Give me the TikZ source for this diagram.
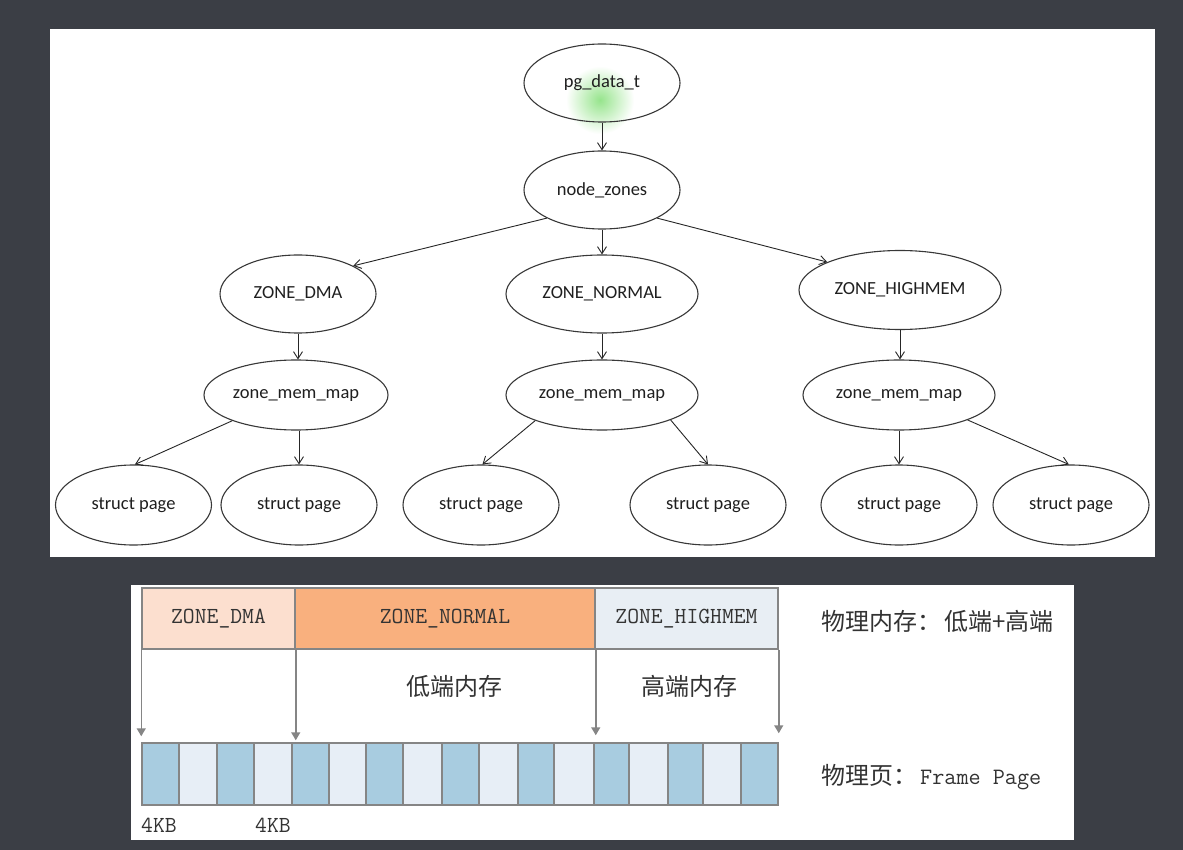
\documentclass[tikz,border=0pt]{standalone}
\usepackage{fontspec}
\usetikzlibrary{shapes.geometric,arrows.meta}
\newfontfamily\treefont{Carlito}
\newfontfamily\cjk{Noto Sans CJK SC}
\newcommand\monof{\ttfamily}
\definecolor{bgdark}{HTML}{3B3E45}
\definecolor{dmacol}{HTML}{FCDFCF}
\definecolor{norcol}{HTML}{F9B07E}
\definecolor{higcol}{HTML}{E8EEF4}
\definecolor{pd}{HTML}{A8CCE0}
\definecolor{pl}{HTML}{E7EEF6}
\definecolor{gline}{HTML}{858585}
\definecolor{txt}{HTML}{333333}
\definecolor{glow}{RGB}{150,228,140}
\begin{document}
\begin{tikzpicture}[x=1pt,y=-1pt,
  el/.style={ellipse,draw=black!78,line width=1.1pt,inner sep=0pt,
    font=\treefont\fontsize{18.5}{20}\selectfont,text=black!88},
  arr/.style={-{Straight Barb[length=7pt,width=9pt]},line width=0.9pt,draw=black!85},
  hcell/.style={rectangle,draw=gline,line width=1.5pt,inner sep=0pt,
    minimum height=61pt,font=\monof\fontsize{23}{25}\selectfont,text=txt},
  pcell/.style={rectangle,draw=gline,line width=1.5pt,inner sep=0pt,minimum height=62pt},
  garr/.style={-{Triangle[length=8pt,width=9pt]},line width=1.5pt,draw=gline},
  lbl/.style={inner sep=0pt,text=txt}]
\useasboundingbox (0,0) rectangle (1183,850);
\fill[bgdark] (0,0) rectangle (1183,850);
\fill[white] (50,29) rectangle (1155,557);
\fill[white] (131,585) rectangle (1074,840);

% cursor glow
\shade[inner color=glow,outer color=white] (600,100) circle (34);

% tree nodes
\node[el,minimum width=156pt,minimum height=78pt] (pg) at (602,83) {pg\_data\_t};
\node[el,minimum width=156pt,minimum height=78pt] (nz) at (602,190) {node\_zones};
\node[el,minimum width=156pt,minimum height=78pt] (dma) at (298,294) {ZONE\_DMA};
\node[el,minimum width=192pt,minimum height=78pt] (nor) at (602,294) {ZONE\_NORMAL};
\node[el,minimum width=202pt,minimum height=79pt] (hig) at (900,290) {ZONE\_HIGHMEM};
\node[el,minimum width=184pt,minimum height=70pt] (m1) at (296,395) {zone\_mem\_map};
\node[el,minimum width=192pt,minimum height=70pt] (m2) at (602,395) {zone\_mem\_map};
\node[el,minimum width=192pt,minimum height=70pt] (m3) at (899,395) {zone\_mem\_map};
\node[el,minimum width=156pt,minimum height=80pt] (s1) at (133.5,505) {struct page};
\node[el,minimum width=156pt,minimum height=80pt] (s2) at (299,505) {struct page};
\node[el,minimum width=156pt,minimum height=80pt] (s3) at (481,505) {struct page};
\node[el,minimum width=156pt,minimum height=80pt] (s4) at (708,505) {struct page};
\node[el,minimum width=156pt,minimum height=80pt] (s5) at (899,505) {struct page};
\node[el,minimum width=156pt,minimum height=80pt] (s6) at (1071,505) {struct page};

% tree connectors
\draw[arr] (pg) -- (nz);
\draw[arr] (nz.207) -- (dma.27);
\draw[arr] (nz) -- (nor);
\draw[arr] (nz.333) -- (hig.159);
\draw[arr] (dma.south) -- (dma.south |- m1.north);
\draw[arr] (nor) -- (m2);
\draw[arr] (hig.south) -- (hig.south |- m3.north);
\draw[arr] (m1.202) -- (s1.88);
\draw[arr] (m1.south -| s2.north) -- (s2.north);
\draw[arr] (m2.201) -- (s3.88);
\draw[arr] (m2.340) -- (s4.90);
\draw[arr] (m3) -- (s5);
\draw[arr] (m3.340) -- (s6.93);

% memory header
\node[hcell,minimum width=153pt,fill=dmacol] (hdma) at (218.5,618.5) {ZONE\_DMA};
\node[hcell,minimum width=300pt,fill=norcol] (hnor) at (445,618.5) {ZONE\_NORMAL};
\node[hcell,minimum width=183pt,fill=higcol] (hhig) at (686.5,618.5) {ZONE\_HIGHMEM};

% page frames
\foreach \a/\b/\c [count=\i] in {142/179/pd,179/217/pl,217/254/pd,254/292/pl,
  292/329/pd,329/366/pl,366/403/pd,403/442/pl,442/479/pd,479/518/pl,518/554/pd,
  554/594/pl,594/629/pd,629/668/pl,668/703/pd,703/741/pl,741/778/pd}
  {\node[pcell,fill=\c,minimum width={(\b-\a)*1pt}] (c\i) at ({(\a+\b)/2},774) {};}

% arrows header -> pages
\draw[garr] (hdma.south west) -- ([yshift=6pt]hdma.south west |- c1.north);
\draw[garr] (hdma.south east) -- ([yshift=2pt]hdma.south east |- c5.north);
\draw[garr] (hnor.south east) -- ([yshift=7pt]hnor.south east |- c13.north);
\draw[garr] (hhig.south east) -- ([yshift=9pt]hhig.south east |- c17.north);

% labels
\node[lbl,font=\cjk\fontsize{24}{26}\selectfont] (low) at (454,686) {低端内存};
\node[lbl,font=\cjk\fontsize{24}{26}\selectfont] (high) at (689,686) {高端内存};
\node[lbl,font=\monof\fontsize{23}{25}\selectfont] (k1) at (159,825) {4KB};
\node[lbl,font=\monof\fontsize{23}{25}\selectfont] (k2) at (273,825) {4KB};
\node[lbl,anchor=west,font=\cjk\fontsize{24}{26}\selectfont] (phys) at (821,621)
  {物理内存：\hspace{3pt}低端+高端};
\node[lbl,anchor=west] (frame) at (821,777)
  {{\cjk\fontsize{24}{26}\selectfont 物理页：}\hspace{3pt}{\monof\fontsize{23.5}{25}\selectfont Frame Page}};
\end{tikzpicture}
\end{document}
